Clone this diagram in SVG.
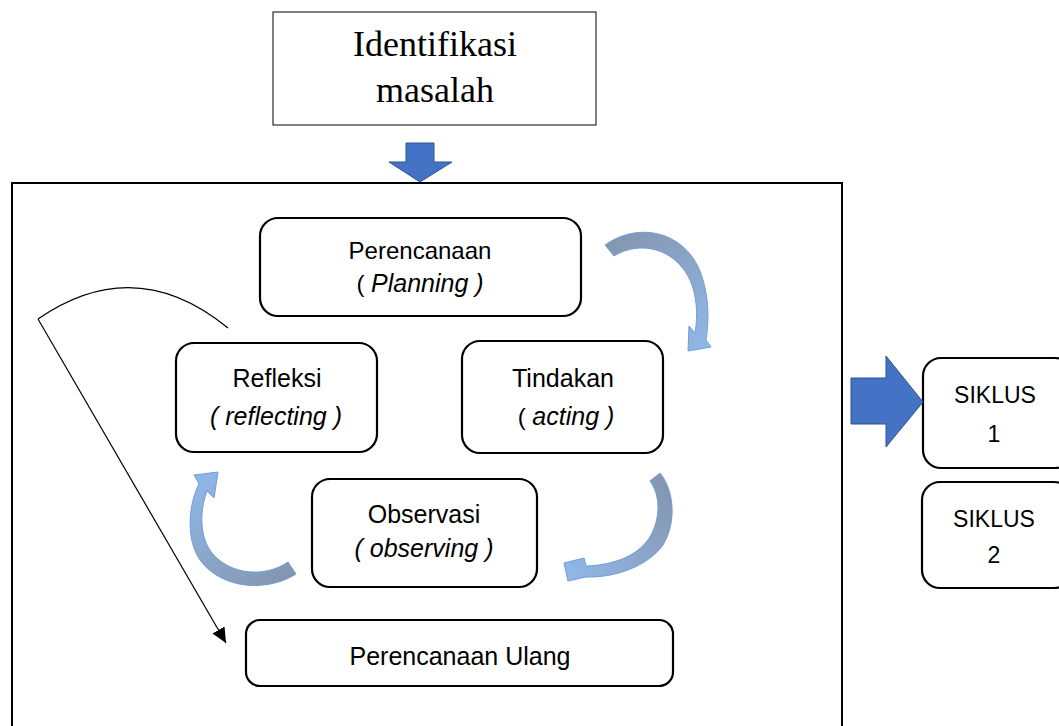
<svg xmlns="http://www.w3.org/2000/svg" width="1059" height="726" viewBox="0 0 1059 726">
  <style>
    .frame { fill: none; stroke: #000; stroke-width: 2; }
    .box { fill: #fff; stroke: #000; stroke-width: 2.2; }
    .title { fill: #fff; stroke: #000; stroke-width: 1; }
    .lbl { font-family: "Liberation Sans", Arial, sans-serif; font-size: 24px; fill: #000; text-anchor: middle; }
    .big { font-size: 25px; }
    .sik { font-size: 23px; }
    .it { font-style: italic; font-size: 25px; }
    .serif { font-family: "Liberation Serif", "Times New Roman", serif; font-size: 36px; fill: #000; text-anchor: middle; }
    .block { fill: #4472C4; stroke: #2F528F; stroke-width: 1; }
    .curve { stroke: #6E9FD8; stroke-width: 1; }
    .thin { fill: none; stroke: #000; stroke-width: 1.2; }
  </style>
  <defs>
    <linearGradient id="gTR" gradientUnits="userSpaceOnUse" x1="610" y1="240" x2="700" y2="345">
      <stop offset="0" stop-color="#8497B0"/>
      <stop offset="0.45" stop-color="#8AA3C6"/>
      <stop offset="1" stop-color="#8FB6E5"/>
    </linearGradient>
    <linearGradient id="gBR" gradientUnits="userSpaceOnUse" x1="660" y1="478" x2="570" y2="570">
      <stop offset="0" stop-color="#8497B0"/>
      <stop offset="0.45" stop-color="#8AA3C6"/>
      <stop offset="1" stop-color="#8FB6E5"/>
    </linearGradient>
    <linearGradient id="gBL" gradientUnits="userSpaceOnUse" x1="292" y1="568" x2="205" y2="478">
      <stop offset="0" stop-color="#8497B0"/>
      <stop offset="0.45" stop-color="#8AA3C6"/>
      <stop offset="1" stop-color="#8FB6E5"/>
    </linearGradient>
    <marker id="tri" markerUnits="userSpaceOnUse" markerWidth="16" markerHeight="14" refX="15" refY="7" orient="auto">
      <path d="M0,0 L15,7 L0,14 Z" fill="#000"/>
    </marker>
  </defs>

  <!-- outer cycle frame -->
  <rect class="frame" x="12" y="183" width="830" height="560"/>

  <!-- problem identification -->
  <g id="identifikasi">
    <rect class="title" x="273" y="12" width="323" height="113"/>
    <text class="serif" x="435" y="56">Identifikasi</text>
    <text class="serif" x="435" y="102">masalah</text>
  </g>

  <g id="perencanaan">
    <rect class="box" x="260" y="218" width="321" height="98" rx="18"/>
    <text class="lbl" x="420" y="259">Perencanaan</text>
    <text class="lbl" x="420" y="292">( <tspan class="it">Planning )</tspan></text>
  </g>

  <g id="refleksi">
    <rect class="box" x="176" y="343" width="201" height="109" rx="18"/>
    <text class="lbl big" x="277" y="387">Refleksi</text>
    <text class="lbl it" x="276" y="425">( reflecting )</text>
  </g>

  <g id="tindakan">
    <rect class="box" x="462" y="341" width="201" height="112" rx="18"/>
    <text class="lbl big" x="563" y="387">Tindakan</text>
    <text class="lbl" x="566" y="425">( <tspan class="it">acting )</tspan></text>
  </g>

  <g id="observasi">
    <rect class="box" x="312" y="479" width="225" height="108" rx="18"/>
    <text class="lbl big" x="424" y="523">Observasi</text>
    <text class="lbl it" x="424" y="557">( observing )</text>
  </g>

  <g id="perencanaan-ulang">
    <rect class="box" x="246" y="620" width="427" height="66" rx="14"/>
    <text class="lbl big" x="460" y="665">Perencanaan Ulang</text>
  </g>

  <g id="siklus-1">
    <rect class="box" x="923" y="358" width="150" height="110" rx="18"/>
    <text class="lbl sik" x="995" y="403">SIKLUS</text>
    <text class="lbl sik" x="994" y="442">1</text>
  </g>

  <g id="siklus-2">
    <rect class="box" x="922" y="482" width="150" height="106" rx="18"/>
    <text class="lbl sik" x="994" y="527">SIKLUS</text>
    <text class="lbl sik" x="994" y="563">2</text>
  </g>

  <g id="connectors">
    <!-- block arrows -->
    <polygon class="block" points="406,143 434,143 434,162 452,162 420,182 389,162 406,162"/>
    <polygon class="block" points="851,378 886,378 886,356 923,402 886,447 886,424 851,424"/>

    <!-- cycle arrows -->
    <path class="curve" fill="url(#gTR)" d="M 605 245 C 640 220, 690 232, 703 280 C 709 300, 709 322, 706 340 L 711 347 L 688 351 L 689 326 L 695 333 C 698 315, 697 296, 690 280 C 675 248, 640 240, 614 256 Z"/>
    <path class="curve" fill="url(#gBR)" d="M 650 481 L 660 473 C 674 490, 677 522, 663 545 C 648 566, 615 578, 586 577 L 568 581 L 564 563 L 584 558 L 586 566 C 615 565, 640 555, 651 535 C 661 516, 660 495, 650 481 Z"/>
    <path class="curve" fill="url(#gBL)" d="M 288 562 L 296 574 C 268 592, 222 590, 200 560 C 186 540, 188 505, 199 484 L 194 475 L 218 472 L 214 498 L 207 491 C 199 512, 200 538, 212 553 C 230 575, 265 578, 288 562 Z"/>

    <!-- re-planning loop -->
    <path class="thin" d="M 228 328 Q 135 252 38 319"/>
    <line class="thin" x1="38" y1="319" x2="226" y2="643" marker-end="url(#tri)"/>
  </g>
</svg>
